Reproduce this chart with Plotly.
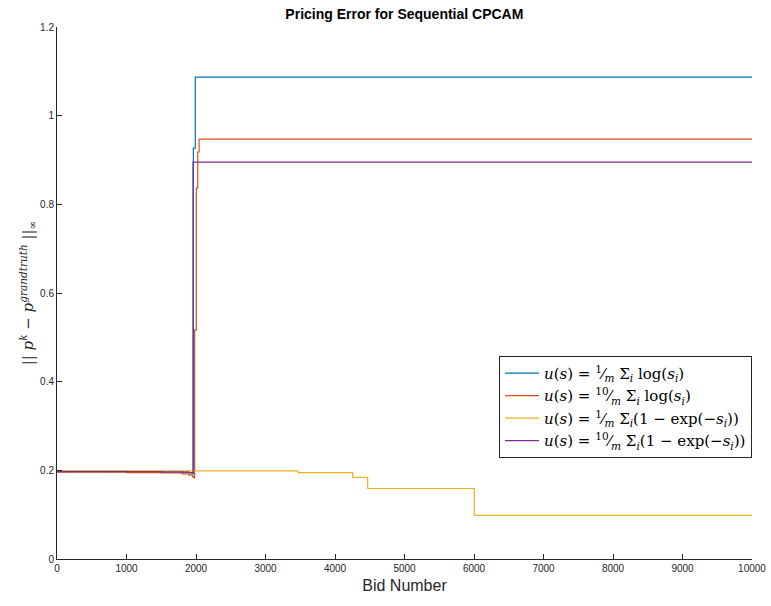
import plotly.graph_objects as go

# Step data (bid number, error)
blue_x = [0, 500, 1000, 1500, 1800, 1900, 1940, 1962, 1990, 10000]
blue_y = [0.198, 0.198, 0.197, 0.197, 0.196, 0.195, 0.192, 0.927, 1.087, 1.087]

orange_x = [0, 500, 1000, 1500, 1800, 1900, 1950, 1970, 1980, 2005, 2025, 2045, 10000]
orange_y = [0.196, 0.196, 0.195, 0.194, 0.192, 0.189, 0.186, 0.183, 0.517, 0.837, 0.918, 0.947, 0.947]

yellow_x = [0, 1000, 2000, 3000, 3468, 4254, 4470, 6004, 10000]
yellow_y = [0.199, 0.199, 0.199, 0.199, 0.195, 0.184, 0.159, 0.0986, 0.0986]

purple_x = [0, 500, 1000, 1500, 1900, 1957, 10000]
purple_y = [0.197, 0.197, 0.197, 0.196, 0.195, 0.895, 0.895]

names = [
    "<i>u</i>(<i>s</i>) = <sup>1</sup>⁄<sub><i>m</i></sub> Σ<sub><i>i</i></sub> log(<i>s<sub>i</sub></i>)",
    "<i>u</i>(<i>s</i>) = <sup>10</sup>⁄<sub><i>m</i></sub> Σ<sub><i>i</i></sub> log(<i>s<sub>i</sub></i>)",
    "<i>u</i>(<i>s</i>) = <sup>1</sup>⁄<sub><i>m</i></sub> Σ<sub><i>i</i></sub>(1 − exp(−<i>s<sub>i</sub></i>))",
    "<i>u</i>(<i>s</i>) = <sup>10</sup>⁄<sub><i>m</i></sub> Σ<sub><i>i</i></sub>(1 − exp(−<i>s<sub>i</sub></i>))",
]
colors = ["#0072BD", "#D95319", "#EDB120", "#7E2F8E"]
series = [(blue_x, blue_y), (orange_x, orange_y), (yellow_x, yellow_y), (purple_x, purple_y)]

x_ticks = list(range(0, 10001, 1000))
x_tick_text = [str(v) for v in x_ticks]
y_ticks = [0, 0.2, 0.4, 0.6, 0.8, 1.0, 1.2]
y_tick_text = ["0", "0.2", "0.4", "0.6", "0.8", "1", "1.2"]

fig = go.Figure()
for (xs, ys), nm, c in zip(series, names, colors):
    fig.add_trace(go.Scatter(x=xs, y=ys, mode="lines", line=dict(color=c, width=1.2, shape="hv"), name=nm))

fig.update_layout(
    width=771, height=606,
    margin=dict(l=57, r=19, t=27, b=47),
    paper_bgcolor="white", plot_bgcolor="white",
    font=dict(family="Liberation Sans, Arial, sans-serif", color="#262626", size=10),
    title=dict(text="<b>Pricing Error for Sequential CPCAM</b>", x=0.5245, xanchor="center",
               y=0.977, yanchor="middle", font=dict(size=14, color="black")),
    showlegend=True,
    legend=dict(x=1.0, xanchor="right", y=0.382, yanchor="top",
                bordercolor="#262626", borderwidth=1, bgcolor="white",
                font=dict(family="DejaVu Serif, serif", size=15, color="black"),
                tracegroupgap=0, itemwidth=34),
)
fig.update_xaxes(range=[0, 10000], tickvals=x_ticks, ticktext=x_tick_text, ticks="inside", ticklen=5,
                 tickcolor="#262626", showline=True, linecolor="#262626", linewidth=1,
                 showgrid=False, zeroline=False, automargin=False,
                 title=dict(text="Bid Number", font=dict(size=16, color="#262626"), standoff=6))
fig.update_yaxes(range=[0, 1.2], tickvals=y_ticks, ticktext=y_tick_text, ticks="inside", ticklen=5,
                 tickcolor="#262626", showline=True, linecolor="#262626", linewidth=1,
                 showgrid=False, zeroline=False,
                 title=dict(text="<i>|| p<sup>k</sup> − p<sup>grandtruth</sup> ||<sub>∞</sub></i>",
                            font=dict(family="DejaVu Serif, serif", size=15, color="#262626"), standoff=2))

fig.write_html("out.html")
